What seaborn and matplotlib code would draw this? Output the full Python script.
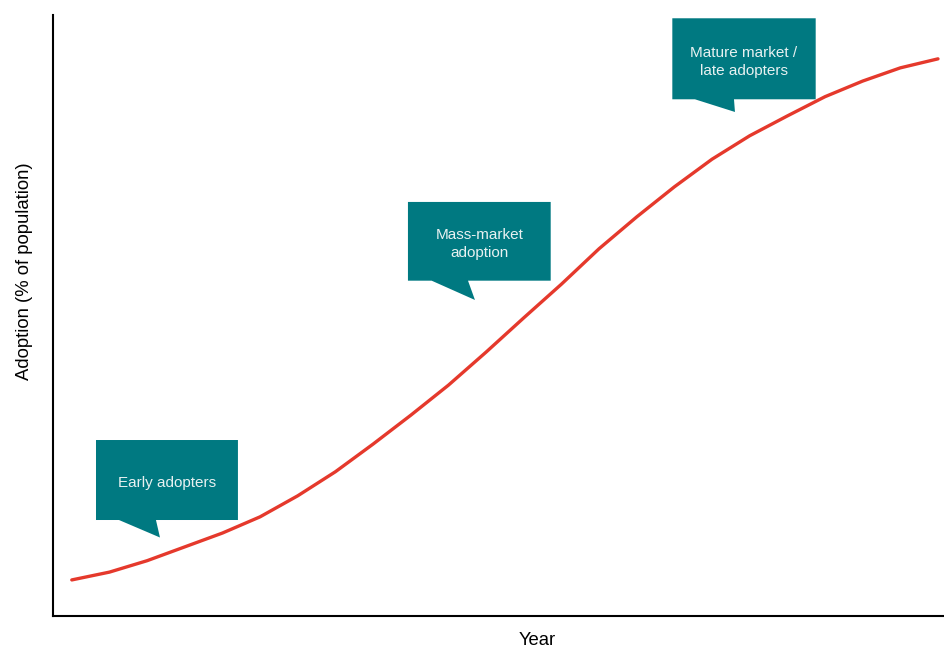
import matplotlib
matplotlib.use("Agg")
import matplotlib.pyplot as plt
from matplotlib.patches import Polygon
import pandas as pd
import seaborn as sns

# Technology adoption S-curve
years = [0, 1, 2, 3, 4, 5, 6, 7, 8, 9, 10, 11,
         12, 13, 14, 15, 16, 17, 18, 19, 20, 21, 22, 23]
adoption = [6.0, 7.3, 9.2, 11.5, 13.8, 16.5, 20.0, 24.0, 28.6, 33.4, 38.4, 43.9,
            49.6, 55.2, 61.1, 66.4, 71.4, 76.0, 79.9, 83.2, 86.4, 89.0, 91.2, 92.7]

phase_labels = ["Early adopters", "Mass-market\nadoption", "Mature market /\nlate adopters"]

df = pd.DataFrame({"Year": years, "Adoption": adoption})

sns.set_theme(style="white")
plt.rcParams["font.family"] = ["Liberation Sans", "DejaVu Sans"]

fig = plt.figure(figsize=(9.44, 6.48), dpi=100)
ax = fig.add_axes([0.0561, 0.0494, 0.9439, 0.9275])

sns.lineplot(data=df, x="Year", y="Adoption", ax=ax, color="#e5392c",
             linewidth=2.4, solid_capstyle="round", solid_joinstyle="round")

ax.set_xlim(-0.5, 23.16)
ax.set_ylim(0, 100)
ax.set_xticks([])
ax.set_yticks([])
ax.set_xlabel("Year", fontsize=13.3, color="black")
ax.set_ylabel("Adoption (% of population)", fontsize=13.3, color="black")
ax.xaxis.set_label_coords(0.544, -0.026)
ax.yaxis.set_label_coords(-0.0225, 0.574)

for side in ["top", "right"]:
    ax.spines[side].set_visible(False)
for side in ["left", "bottom"]:
    ax.spines[side].set_color("black")
    ax.spines[side].set_linewidth(1.5)

# Speech-bubble callouts in axes fractions: box (x0, x1, y_bottom, y_top), tail (left, right, tip)
callouts = [
    ((0.0483, 0.2076, 0.1597, 0.2928), (0.0741, 0.1156, (0.1201, 0.1306))),
    ((0.3984, 0.5586, 0.5579, 0.6889), (0.4250, 0.4658, (0.4736, 0.5258))),
    ((0.6951, 0.8560, 0.8597, 0.9945), (0.7205, 0.7643, (0.7654, 0.8386))),
]

teal = "#007981"
for label, ((x0, x1, yb, yt), (tl, tr, tip)) in zip(phase_labels, callouts):
    verts = [(x0, yt), (x1, yt), (x1, yb), (tr, yb), tip, (tl, yb), (x0, yb)]
    ax.add_patch(Polygon(verts, closed=True, transform=ax.transAxes,
                         facecolor=teal, edgecolor="none", clip_on=False, zorder=3))
    ax.text((x0 + x1) / 2, (yb + yt) / 2 - 0.005, label, transform=ax.transAxes,
            ha="center", va="center", fontsize=11, color="#e8f1f1",
            linespacing=1.38, zorder=4)

fig.savefig("out.png", dpi=100)
